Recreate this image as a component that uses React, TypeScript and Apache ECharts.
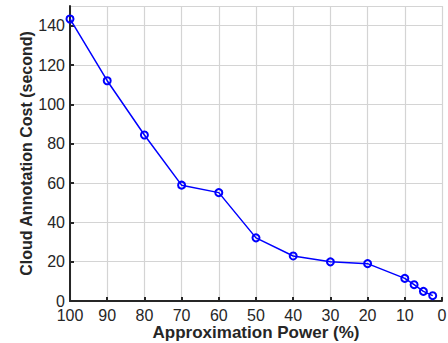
import React, { useEffect, useRef } from "react";
import * as echarts from "echarts";

const powerPct = [100, 90, 80, 70, 60, 50, 40, 30, 20, 10, 7.5, 5, 2.5];
const costSec = [143.4, 112, 84.4, 58.9, 55.1, 32.1, 22.9, 19.9, 19.0, 11.5, 8.3, 4.9, 2.7];

export default function App() {
  const ref = useRef<HTMLDivElement>(null);
  useEffect(() => {
    if (!ref.current) return;
    const chart = echarts.init(ref.current, null, { renderer: "svg" });
    const font = "Liberation Sans, Arial, Helvetica, sans-serif";
    chart.setOption({
      animation: false,
      backgroundColor: "#ffffff",
      grid: { left: 70, right: 6, top: 6, bottom: 42, containLabel: false, outerBoundsMode: "none" },
      xAxis: {
        type: "value",
        inverse: true,
        min: 0,
        max: 100,
        interval: 10,
        name: "Approximation Power (%)",
        nameLocation: "middle",
        nameGap: 23,
        nameMoveOverlap: false,
        nameTextStyle: { fontFamily: font, fontSize: 17, fontWeight: "bold", color: "#262626", lineHeight: 17 },
        axisLine: { show: true, onZero: false, lineStyle: { color: "#262626", width: 2 } },
        axisTick: { show: true, inside: true, length: 4, lineStyle: { color: "#262626", width: 2 } },
        axisLabel: { fontFamily: font, fontSize: 16, lineHeight: 12, color: "#262626", margin: 8 },
        splitLine: { show: true, lineStyle: { color: "#d4d4d4", width: 1.2 } },
      },
      yAxis: {
        type: "value",
        position: "left",
        min: 0,
        max: 150,
        interval: 20,
        name: "Cloud Annotation Cost (second)",
        nameLocation: "middle",
        nameGap: 36,
        nameMoveOverlap: false,
        nameTextStyle: { fontFamily: font, fontSize: 16, fontWeight: "bold", color: "#262626", lineHeight: 16 },
        axisLine: { show: true, onZero: false, lineStyle: { color: "#262626", width: 2 } },
        axisTick: { show: true, inside: true, length: 4, lineStyle: { color: "#262626", width: 2 } },
        axisLabel: {
          fontFamily: font,
          fontSize: 16,
          lineHeight: 12,
          color: "#262626",
          margin: 5,
          showMaxLabel: false,
          formatter: (v: number) => (v % 20 === 0 ? String(v) : ""),
        },
        splitLine: { show: true, lineStyle: { color: "#d4d4d4", width: 1.2 } },
      },
      series: [
        {
          type: "line",
          data: powerPct.map((p, i) => [p, costSec[i]]),
          symbol: "circle",
          symbolSize: 7,
          showAllSymbol: true,
          lineStyle: { color: "#0000ff", width: 1.5 },
          itemStyle: { color: "rgba(255,255,255,0)", borderColor: "#0000ff", borderWidth: 2 },
        },
      ],
    });
    return () => chart.dispose();
  }, []);
  return <div ref={ref} style={{ width: 448, height: 343, position: "absolute", left: 0, top: 0 }} />;
}
